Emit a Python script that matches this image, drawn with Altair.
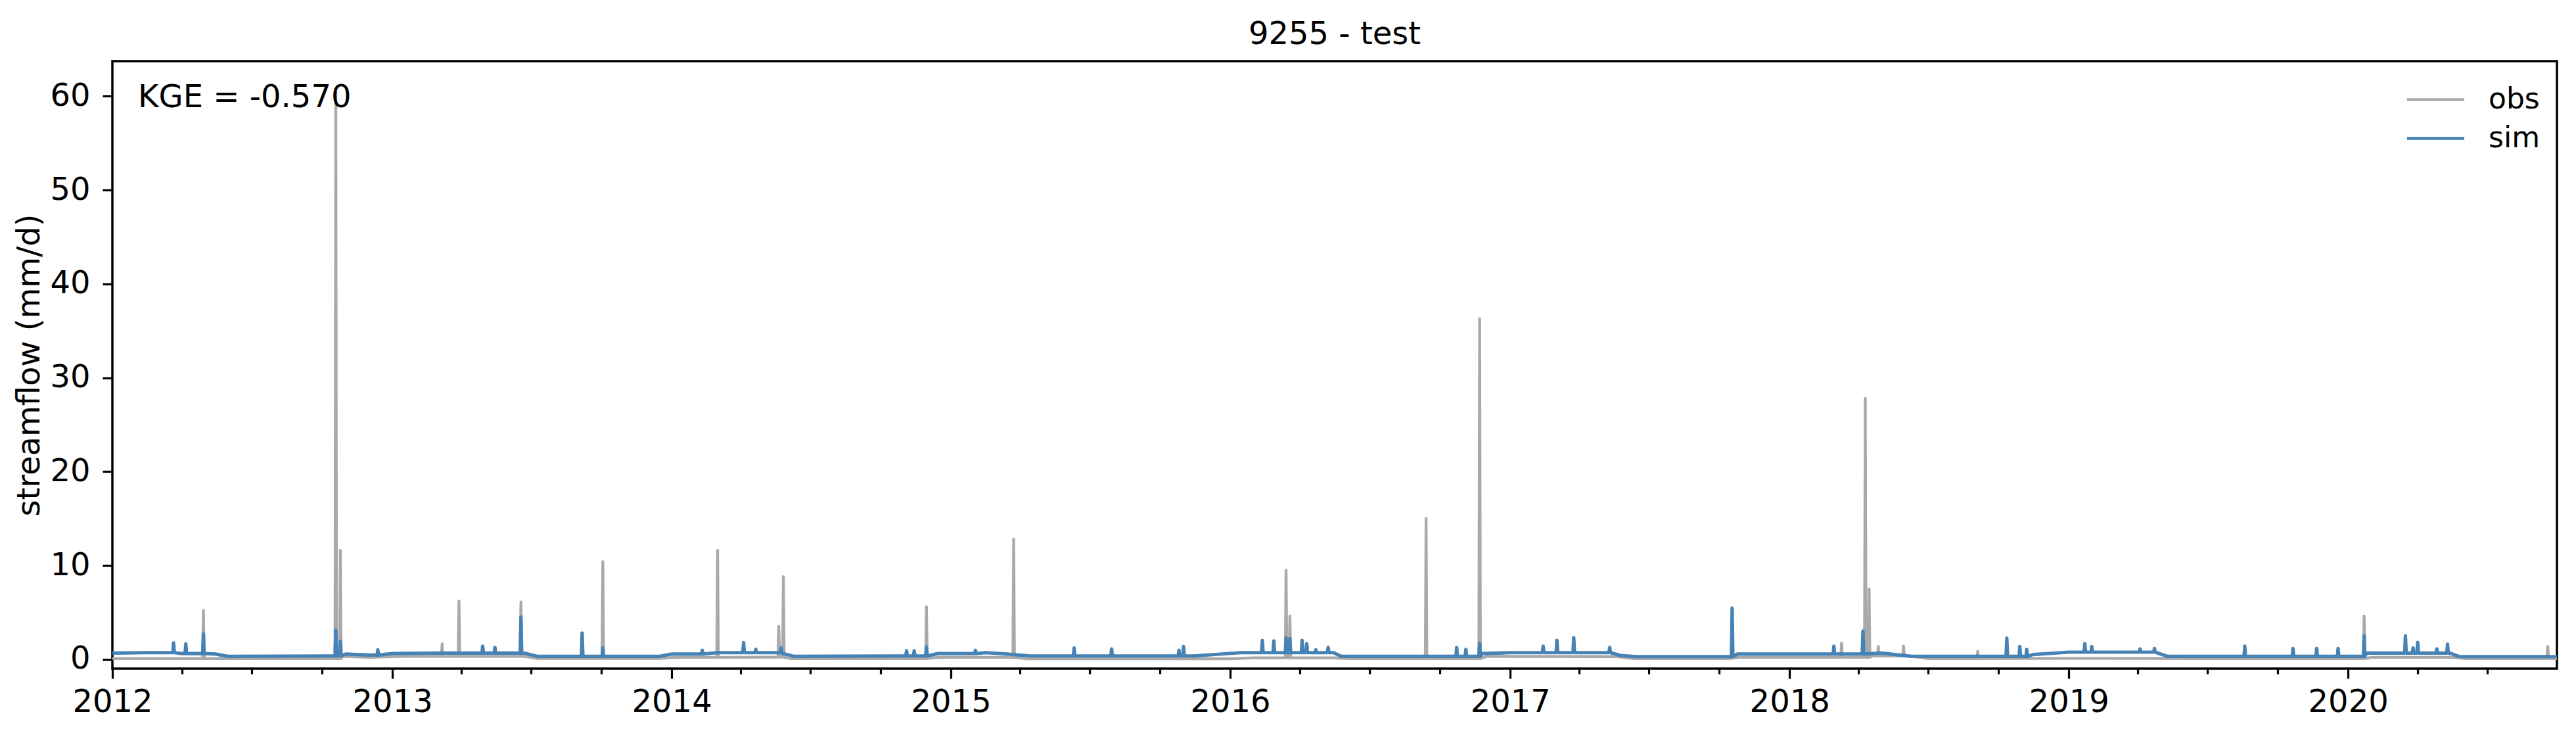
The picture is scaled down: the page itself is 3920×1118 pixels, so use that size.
import altair as alt
import pandas as pd

# observed flow: slow baseline readings (mm/d)
obs_base_dates = ['2012-01-01', '2012-10-15', '2012-10-28', '2012-12-01', '2013-01-15',
                  '2013-06-25', '2013-07-10', '2013-12-15', '2014-01-05', '2014-05-01',
                  '2014-06-05', '2014-11-20', '2014-12-15', '2015-03-20', '2015-04-10',
                  '2015-12-31', '2016-02-01', '2016-05-15', '2016-06-01', '2016-11-20',
                  '2016-12-01', '2017-05-20', '2017-06-10', '2017-10-15', '2017-10-25',
                  '2018-04-01', '2018-04-20', '2018-06-15', '2018-07-01', '2019-01-15',
                  '2019-06-01', '2020-01-20', '2020-02-01', '2020-05-20', '2020-06-01',
                  '2020-09-30']
obs_base_vals = [0.07, 0.07, 0.3, 0.2, 0.3,
                 0.27, 0.08, 0.08, 0.2, 0.22,
                 0.07, 0.07, 0.2, 0.2, 0.05,
                 0.05, 0.15, 0.15, 0.07, 0.07,
                 0.3, 0.28, 0.07, 0.07, 0.2,
                 0.2, 0.35, 0.25, 0.07, 0.1,
                 0.07, 0.07, 0.2, 0.2, 0.07,
                 0.07]

# observed flow: event peaks
obs_peak_dates = ['2012-04-29', '2012-10-19', '2012-10-25', '2013-03-07', '2013-03-29',
                  '2013-06-18', '2013-10-03', '2014-03-02', '2014-05-21', '2014-05-27',
                  '2014-11-30', '2015-03-24', '2016-03-14', '2016-03-19', '2016-09-13',
                  '2016-11-22', '2018-03-10', '2018-04-10', '2018-04-15', '2018-04-27',
                  '2018-05-30', '2018-09-04', '2020-01-22', '2020-09-18']
obs_peak_vals = [5.2, 60.4, 11.6, 1.66, 6.2,
                 6.1, 10.4, 11.6, 3.5, 8.8,
                 5.6, 12.8, 9.5, 4.6, 15.0,
                 36.3, 1.7, 27.8, 7.5, 1.35,
                 1.4, 0.85, 4.6, 1.35]

# simulated flow: slow baseline readings (mm/d)
sim_base_dates = ['2012-01-01', '2012-02-15', '2012-04-01', '2012-05-15', '2012-06-01',
                  '2012-10-15', '2012-11-01', '2012-12-01', '2013-01-01', '2013-03-01',
                  '2013-06-25', '2013-07-10', '2013-12-15', '2014-01-01', '2014-03-01',
                  '2014-05-25', '2014-06-10', '2014-11-01', '2014-12-15', '2015-02-15',
                  '2015-03-15', '2015-04-15', '2015-11-15', '2016-01-15', '2016-05-15',
                  '2016-05-25', '2016-10-15', '2016-11-25', '2017-01-01', '2017-04-15',
                  '2017-05-25', '2017-06-15', '2017-10-15', '2017-10-25', '2018-02-01',
                  '2018-05-01', '2018-06-10', '2018-10-01', '2018-11-15', '2019-01-01',
                  '2019-04-15', '2019-05-10', '2019-12-31', '2020-01-25', '2020-05-15',
                  '2020-05-25', '2020-09-30']
sim_base_vals = [0.65, 0.7, 0.6, 0.55, 0.3,
                 0.35, 0.55, 0.45, 0.6, 0.65,
                 0.6, 0.3, 0.3, 0.55, 0.7,
                 0.65, 0.3, 0.35, 0.6, 0.7,
                 0.55, 0.35, 0.35, 0.7, 0.7,
                 0.3, 0.3, 0.6, 0.7, 0.7,
                 0.4, 0.28, 0.28, 0.55, 0.55,
                 0.65, 0.3, 0.3, 0.5, 0.75,
                 0.75, 0.3, 0.3, 0.65, 0.6,
                 0.28, 0.28]

# simulated flow: event peaks
sim_peak_dates = ['2012-03-21', '2012-04-06', '2012-04-29', '2012-10-19', '2012-10-25',
                  '2012-12-13', '2013-04-29', '2013-05-15', '2013-06-18', '2013-09-06',
                  '2013-10-03', '2014-02-10', '2014-04-05', '2014-04-21', '2014-05-24',
                  '2014-11-04', '2014-11-14', '2014-11-30', '2015-02-02', '2015-06-11',
                  '2015-07-30', '2015-10-26', '2015-11-01', '2016-02-12', '2016-02-27',
                  '2016-03-14', '2016-03-19', '2016-04-04', '2016-04-10', '2016-04-22',
                  '2016-05-08', '2016-10-23', '2016-11-04', '2016-11-22', '2017-02-13',
                  '2017-03-03', '2017-03-25', '2017-05-11', '2017-10-18', '2018-02-28',
                  '2018-04-07', '2018-10-12', '2018-10-29', '2018-11-07', '2019-01-22',
                  '2019-01-31', '2019-04-04', '2019-04-23', '2019-08-19', '2019-10-21',
                  '2019-11-21', '2019-12-19', '2020-01-22', '2020-03-16', '2020-03-26',
                  '2020-04-01', '2020-04-26', '2020-05-10']
sim_peak_vals = [1.75, 1.64, 2.7, 3.1, 1.9,
                 1.0, 1.4, 1.26, 4.5, 2.8,
                 1.2, 0.95, 1.78, 1.05, 1.2,
                 0.9, 0.9, 1.3, 0.95, 1.2,
                 1.1, 0.95, 1.35, 2.0, 1.95,
                 2.25, 2.2, 2.0, 1.65, 1.0,
                 1.25, 1.25, 1.05, 1.7, 1.4,
                 2.0, 2.3, 1.25, 5.45, 1.4,
                 3.0, 2.25, 1.35, 1.05, 1.65,
                 1.35, 1.1, 1.15, 1.4, 1.15,
                 1.15, 1.15, 2.5, 2.5, 1.2,
                 1.8, 1.1, 1.6]

year_ticks = list(range(2012, 2021))
y_ticks = [0, 10, 20, 30, 40, 50, 60]
kge_label = 'KGE = -0.570'


def build(name, base_dates, base_vals, peak_dates, peak_vals):
    base = pd.DataFrame({'date': pd.to_datetime(base_dates), 'q': base_vals})
    peaks = pd.DataFrame({'date': pd.to_datetime(peak_dates), 'peak': peak_vals})
    # flow on the days around a peak = latest baseline reading
    peaks = pd.merge_asof(peaks.sort_values('date'),
                          base.rename(columns={'q': 'lvl'}), on='date')
    day = pd.Timedelta(days=1)
    parts = [base]
    for dt, pk, lvl in peaks[['date', 'peak', 'lvl']].itertuples(index=False):
        parts.append(pd.DataFrame({'date': [dt - day, dt, dt + day],
                                   'q': [lvl, pk, lvl]}))
    out = pd.concat(parts).sort_values('date').drop_duplicates('date')
    out['series'] = name
    out['date'] = out['date'].dt.strftime('%Y-%m-%dT00:00:00')
    return out


obs_df = build('obs', obs_base_dates, obs_base_vals, obs_peak_dates, obs_peak_vals)
sim_df = build('sim', sim_base_dates, sim_base_vals, sim_peak_dates, sim_peak_vals)

quarters = [f'{y}-{m:02d}-01T00:00:00' for y in range(2012, 2021) for m in (4, 7, 10)]
quarters = [q for q in quarters if q <= '2020-09-30']
minor_df = pd.DataFrame({'date': quarters})

x_scale = alt.Scale(domain=[alt.DateTime(year=2012, month=1, date=1),
                            alt.DateTime(year=2020, month=9, date=30)])
x_axis = alt.Axis(values=[alt.DateTime(year=y, month=1, date=1) for y in year_ticks],
                  format='%Y', title=None, tickSize=15, labelPadding=12,
                  labelFlush=False)
y_enc = alt.Y('q:Q', scale=alt.Scale(domain=[-1.0, 63.74], nice=False, zero=False),
              axis=alt.Axis(values=y_ticks, title='streamflow (mm/d)', tickSize=15,
                            labelPadding=19, titlePadding=6, labelFlush=False))
color_enc = alt.Color('series:N',
                      scale=alt.Scale(domain=['obs', 'sim'], range=['#a9a9a9', '#4682b4']),
                      legend=alt.Legend(title=None, orient='none', legendX=3504, legendY=27,
                                        symbolType='M-1.5,0L1.5,0', symbolSize=3364,
                                        symbolStrokeWidth=4.6, labelFontSize=44,
                                        labelOffset=49, rowPadding=5, padding=0,
                                        labelColor='black'))

obs_line = alt.Chart(obs_df).mark_line(strokeWidth=4.3, strokeJoin='round').encode(
    x=alt.X('date:T', scale=x_scale, axis=x_axis), y=y_enc, color=color_enc
)
sim_line = alt.Chart(sim_df).mark_line(strokeWidth=5.2, strokeJoin='round').encode(
    x=alt.X('date:T', scale=x_scale, axis=x_axis), y=y_enc, color=color_enc
)

# quarterly minor ticks on the time axis
minor = alt.Chart(minor_df).mark_point(opacity=0).encode(
    x=alt.X('date:T', scale=x_scale,
            axis=alt.Axis(values=quarters, labels=False, tickSize=8, orient='bottom',
                          title=None))
)

kge = alt.Chart(pd.DataFrame({'t': [kge_label]})).mark_text(
    align='left', baseline='alphabetic', fontSize=48, color='black'
).encode(x=alt.value(39), y=alt.value(70), text='t:N')

lines = alt.layer(obs_line, sim_line)

chart = alt.layer(lines, minor, kge).resolve_axis(x='independent').properties(
    width=3720, height=924,
    title=alt.TitleParams('9255 - test', fontSize=48, fontWeight='normal',
                          anchor='middle', offset=16, color='black'),
    padding={'left': 163, 'top': 85, 'right': 21, 'bottom': 93},
    autosize=alt.AutoSizeParams(type='none'),
).configure(
    font='DejaVu Sans'
).configure_view(
    stroke='black', strokeWidth=3.5
).configure_axis(
    grid=False, domain=False, tickColor='black', tickWidth=3.2,
    labelFontSize=48, labelColor='black', titleFontSize=48,
    titleFontWeight='normal', titleColor='black'
)

chart.save("out.html", embed_options={"renderer": "svg", "actions": False})
